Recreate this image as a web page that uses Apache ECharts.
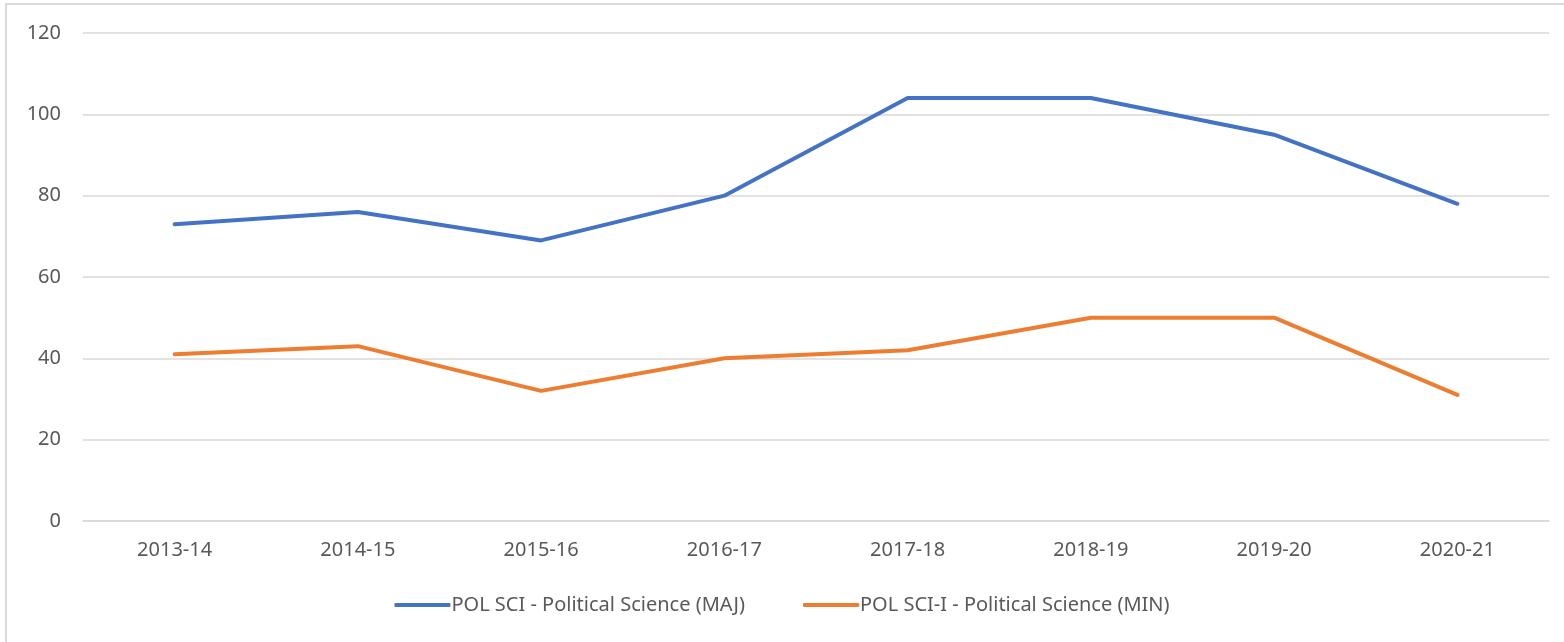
<!DOCTYPE html>
<html><head><meta charset="utf-8">
<script src="https://cdn.jsdelivr.net/npm/echarts@6/dist/echarts.min.js"></script>
<style>
html,body{margin:0;padding:0;background:#fff;}
#frame{position:absolute;left:5px;top:3px;width:1562px;height:645px;border:2px solid #d9d9d9;box-sizing:border-box;}
#c{position:absolute;left:0;top:0;width:1564px;height:642px;}
</style></head>
<body><div id="frame"></div><div id="c"></div>
<script>
const categories = ['2013-14','2014-15','2015-16','2016-17','2017-18','2018-19','2019-20','2020-21'];
const seriesNames = ['POL SCI - Political Science (MAJ)','POL SCI-I - Political Science (MIN)'];
const majValues = [73,76,69,80,104,104,95,78];
const minValues = [41,43,32,40,42,50,50,31];
const yTicks = [0,20,40,60,80,100,120];

const chart = echarts.init(document.getElementById('c'), null, {renderer:'canvas'});
const font = 'Noto Sans';
const fs = 20;
chart.setOption({
  animation:false,
  color:['#4472c4','#ed7d31'],
  grid:{left:83,right:15,top:33,bottom:121,containLabel:false},
  legend:{
    bottom:22, left:'center', itemWidth:56, itemHeight:4, itemGap:58,
    icon:'roundRect',
    textStyle:{fontFamily:font,fontSize:fs,color:'#595959',padding:[0,0,0,-4]},
    data:seriesNames
  },
  xAxis:{
    type:'category', data:categories, boundaryGap:true,
    axisLine:{show:true,lineStyle:{color:'#d9d9d9',width:1.5}},
    axisTick:{show:false},
    axisLabel:{fontFamily:font,fontSize:fs,color:'#595959',margin:19}
  },
  yAxis:{
    type:'value', min:yTicks[0], max:yTicks[yTicks.length-1], interval:20,
    axisLine:{show:false}, axisTick:{show:false},
    splitLine:{lineStyle:{color:'#d9d9d9',width:1.5}},
    axisLabel:{fontFamily:font,fontSize:fs,color:'#595959',margin:22}
  },
  series:[
    {name:seriesNames[0],type:'line',data:majValues,symbol:'none',lineStyle:{width:4,cap:'round',join:'round'}},
    {name:seriesNames[1],type:'line',data:minValues,symbol:'none',lineStyle:{width:4,cap:'round',join:'round'}}
  ]
});
</script></body></html>
